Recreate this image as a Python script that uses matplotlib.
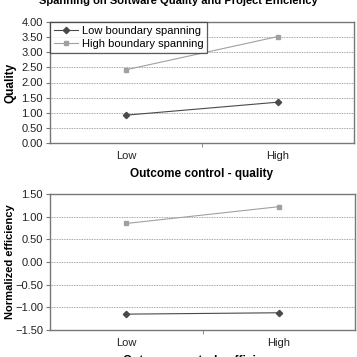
import matplotlib
matplotlib.use('Agg')
import matplotlib.pyplot as plt
import numpy as np

plt.rcParams['font.family'] = ['Liberation Sans', 'DejaVu Sans']

categories = ['Low', 'High']
series_names = ['Low boundary spanning', 'High boundary spanning']
quality_low = [0.92, 1.35]
quality_high = [2.42, 3.52]
eff_low = [-1.15, -1.12]
eff_high = [0.85, 1.22]
quality_ticks = [0.0, 0.5, 1.0, 1.5, 2.0, 2.5, 3.0, 3.5, 4.0]
eff_ticks = [-1.5, -1.0, -0.5, 0.0, 0.5, 1.0, 1.5]

W = H = 357
fig = plt.figure(figsize=(3.57, 3.57), dpi=100)


def px_axes(x0, y0, x1, y1):
    return fig.add_axes([x0 / W, 1 - y1 / H, (x1 - x0) / W, (y1 - y0) / H])


def style_axes(ax, ticks, xlabel, ylabel, ylabel_size):
    x = np.arange(len(categories))
    ax.set_xlim(-0.5, len(categories) - 0.5)
    ax.set_ylim(ticks[0], ticks[-1])
    ax.set_yticks(ticks)
    ax.set_yticklabels(['%.2f' % t if t >= 0 else '\u2212%.2f' % -t for t in ticks], fontsize=8)
    ax.set_xticks(x)
    ax.set_xticklabels(categories, fontsize=8, color='#222222')
    ax.tick_params(axis='x', length=0, pad=6)
    ax.set_xticks([0.5], minor=True)
    ax.tick_params(axis='x', which='minor', length=3, color='#777777')
    ax.tick_params(axis='y', length=3, color='#777777', pad=2, labelcolor='#222222')
    for t in ticks[1:-1]:
        ax.axhline(t, color='#888888', linestyle=(0, (1, 1)), linewidth=0.6, zorder=0)
    for s in ax.spines.values():
        s.set_color('#777777')
        s.set_linewidth(1.0)
    ax.set_xlabel(xlabel, fontsize=8.5, fontweight='bold', labelpad=5)
    ax.set_ylabel(ylabel, fontsize=ylabel_size, fontweight='bold', va='center')
    # put the y label about 10 px from the left edge of the figure
    w = ax.get_position().width * W
    ax.yaxis.set_label_coords(-40.0 / w, 0.5)


def draw(ax, low, high):
    x = np.arange(len(categories))
    ax.plot(x, low, color='#4a4a4a', linewidth=0.8, marker='D', markersize=3.2,
            label=series_names[0])
    ax.plot(x, high, color='#a0a0a0', linewidth=0.8, marker='s', markersize=3.5,
            label=series_names[1])


ax1 = px_axes(50, 22, 354, 143)
draw(ax1, quality_low, quality_high)
style_axes(ax1, quality_ticks, 'Outcome control - quality', 'Quality', 8.5)
leg = ax1.legend(loc='upper left', fontsize=8, frameon=True, fancybox=False,
                 borderaxespad=0.0, handlelength=2.2, borderpad=0.35,
                 labelspacing=0.3, handletextpad=0.3)
leg.get_frame().set_edgecolor('#333333')
leg.get_frame().set_linewidth(0.9)

ax2 = px_axes(50, 194, 355, 330)
draw(ax2, eff_low, eff_high)
style_axes(ax2, eff_ticks, 'Outcome control - efficiency', 'Normalized efficiency', 8)

fig.text(0.5, 1 - 1.0 / H, 'Spanning on Software Quality and Project Efficiency',
         ha='center', va='center', fontsize=8, fontweight='bold',
         family=['Liberation Sans Narrow', 'Liberation Sans'])

fig.savefig('out.png', dpi=100)
